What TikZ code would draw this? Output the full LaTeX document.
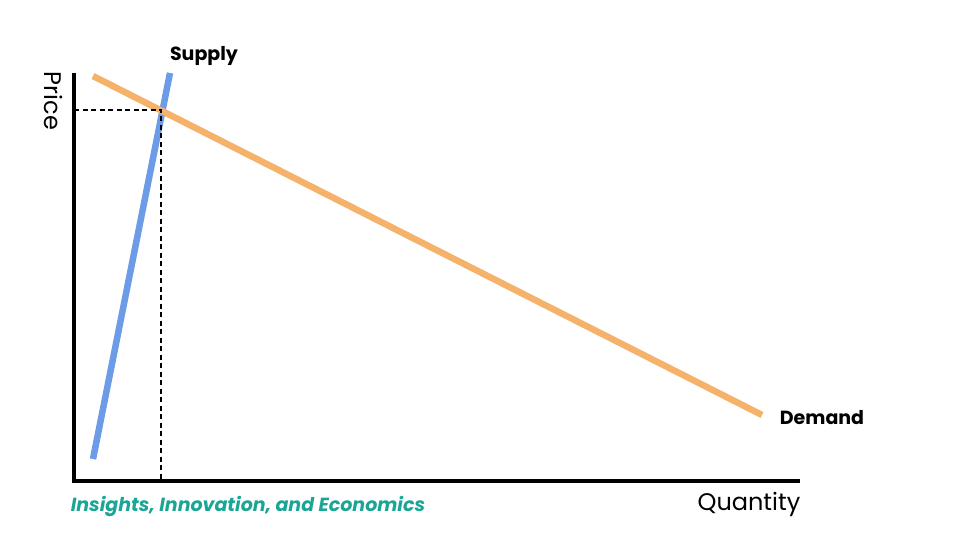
\documentclass[tikz,border=0pt]{standalone}
\usepackage{fontspec}
\setmainfont{Poppins}
\usetikzlibrary{positioning}
\definecolor{supplyblue}{HTML}{6C9BE8}
\definecolor{demandorange}{HTML}{F4B26A}
\definecolor{brandteal}{HTML}{1AA595}

\begin{document}
\begin{tikzpicture}[
% first : the style of the chart
    x=1pt, y=-1pt,
    axis/.style={
        draw=black,
        line width=4pt
    },
    curve/.style={
        line width=6.5pt
    },
    guide/.style={
        draw=black,
        dash pattern=on 5pt off 3.5pt,
        line width=1.5pt
    },
    curvelabel/.style={
        font=\bfseries\fontsize{19}{22}\selectfont
    },
    axislabel/.style={
        font=\fontsize{24}{28}\selectfont
    }
]
\useasboundingbox (0,0) rectangle (960,540);

% axes
\coordinate (origin) at (74,481);
\coordinate (ytop) at (74,73);
\coordinate (xend) at (800,481);
\draw[axis] (ytop) -- (origin) -- (xend);

% curves
\coordinate (s1) at (93,459);
\coordinate (s2) at (170,73);
\coordinate (d1) at (93,76);
\coordinate (d2) at (762,415);
\draw[curve, draw=supplyblue] (s1) -- (s2);
\draw[curve, draw=demandorange] (d1) -- (d2);

% equilibrium guides
\coordinate (eq) at (161,110);
\coordinate (eqy) at (74,110);
\coordinate (eqx) at (161,481);
\draw[guide] (eqy) -- (eq) -- (eqx);

% labels
\node[curvelabel] (supply) at (204,56) {Supply};
\node[curvelabel] (demand) at (822,418) {Demand};
\node[axislabel, rotate=-90] (price) at (54,101) {Price};
\node[axislabel] (quantity) at (749,504) {Quantity};
\node[font=\bfseries\itshape\fontsize{19}{22}\selectfont, text=brandteal] (brand) at (248,506) {Insights, Innovation, and Economics};

\end{tikzpicture}
\end{document}
